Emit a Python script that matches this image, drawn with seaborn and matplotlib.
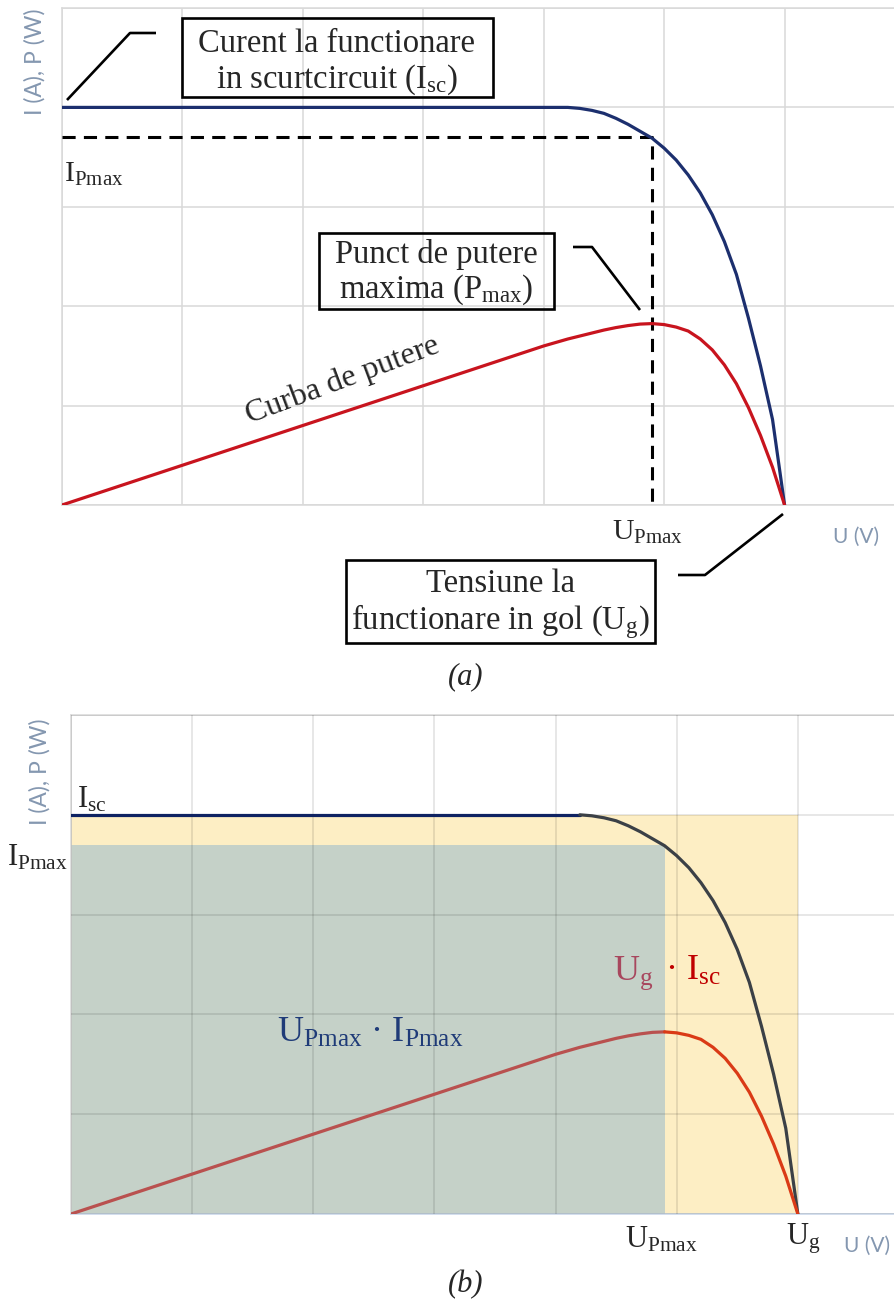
import matplotlib
matplotlib.use("Agg")
import matplotlib.pyplot as plt
from matplotlib.lines import Line2D
from matplotlib.patches import Rectangle
import pandas as pd
import seaborn as sns

# ---- I-U and P-U characteristic of a PV cell (read in grid units) ----
voltage = [0, 1, 2, 3, 3.5, 4.0, 4.1, 4.2, 4.3, 4.4, 4.5, 4.6, 4.7, 4.8,
           4.9, 5.0, 5.1, 5.2, 5.3, 5.4, 5.5, 5.6, 5.7, 5.8, 5.9, 6.0]
current = [4.0, 4.0, 4.0, 4.0, 4.0, 4.0, 4.0, 4.0, 3.99, 3.97, 3.94, 3.89,
           3.83, 3.76, 3.69, 3.59, 3.47, 3.32, 3.14, 2.92, 2.65, 2.32, 1.88,
           1.40, 0.86, 0.0]
power = [0.0, 0.40, 0.80, 1.20, 1.40, 1.60, 1.635, 1.67, 1.70, 1.73, 1.76,
         1.785, 1.805, 1.82, 1.825, 1.815, 1.79, 1.75, 1.67, 1.56, 1.41, 1.22,
         0.98, 0.70, 0.38, 0.0]

U_G = 6.0       # open-circuit voltage
I_SC = 4.0      # short-circuit current
U_PMAX = 4.9    # voltage at maximum power point
I_PMAX = 3.7    # current at maximum power point
KNEE_U = 4.2    # where the current starts to fall

x_ticks = [0, 1, 2, 3, 4, 5, 6, 7]
y_ticks = [0, 1, 2, 3, 4, 5]
y_label = "I (A), P (W)"
x_label = "U (V)"

df = pd.DataFrame({"U": voltage, "I": current, "P": power})

sns.set_theme(style="whitegrid")
plt.rcParams["font.family"] = ["Liberation Serif", "DejaVu Serif"]
plt.rcParams["mathtext.fontset"] = "custom"
plt.rcParams["mathtext.rm"] = "Liberation Serif"
plt.rcParams["mathtext.it"] = "Liberation Serif:italic"
plt.rcParams["mathtext.default"] = "rm"

W, H = 894, 1300
fig = plt.figure(figsize=(W / 100, H / 100), dpi=100)
fig.patch.set_facecolor("white")


def fx(px):
    return px / W


def fy(py):
    return 1 - py / H


def axes_px(left, top, right, bottom):
    return fig.add_axes([fx(left), fy(bottom), (right - left) / W, (bottom - top) / H])


GRID = "#D9D9D9"
AXIS_LABEL_COLOR = "#8497B0"
SANS = ["Lato", "DejaVu Sans"]
NAVY = "#1C2F6E"
RED = "#C8141E"


def style_axes(ax, grid_kw):
    ax.set_xlim(0, 7)
    ax.set_ylim(0, 5)
    ax.set_xticks(x_ticks)
    ax.set_yticks(y_ticks)
    ax.set_xticklabels([])
    ax.set_yticklabels([])
    ax.tick_params(length=0)
    ax.set_facecolor("white")
    ax.grid(True, **grid_kw)
    for side in ["left", "top", "bottom", "right"]:
        ax.spines[side].set_color(GRID)
        ax.spines[side].set_linewidth(1.1)


def text(px, py, s, size, **kw):
    kw.setdefault("ha", "left")
    kw.setdefault("va", "baseline")
    fig.text(fx(px), fy(py), s, fontsize=size, **kw)


def leader(points, lw=1.9):
    xs = [fx(p[0]) for p in points]
    ys = [fy(p[1]) for p in points]
    fig.add_artist(Line2D(xs, ys, transform=fig.transFigure, color="black",
                          lw=lw, solid_capstyle="butt"))


def frame(left, top, right, bottom, lw=1.9):
    fig.add_artist(Rectangle((fx(left), fy(bottom)), (right - left) / W,
                             (bottom - top) / H, transform=fig.transFigure,
                             fill=False, ec="black", lw=lw))


# ================= panel (a) =================
ax_a = axes_px(62, 8, 905, 505)
style_axes(ax_a, dict(color=GRID, linewidth=1.1))
ax_a.set_axisbelow(True)

sns.lineplot(data=df, x="U", y="I", ax=ax_a, color=NAVY, linewidth=2.3,
             sort=True, zorder=3)
sns.lineplot(data=df, x="U", y="P", ax=ax_a, color=RED, linewidth=2.3,
             sort=True, zorder=3)
ax_a.plot([0, U_PMAX, U_PMAX], [I_PMAX, I_PMAX, 0], color="black",
          linewidth=2.2, dashes=(4.3, 2.7), zorder=2.8)
ax_a.set_xlabel("")
ax_a.set_ylabel("")

fig.text(fx(35), fy(62), y_label, rotation=90, ha="center", va="center",
         fontsize=16.5, color=AXIS_LABEL_COLOR, family=SANS)
fig.text(fx(856), fy(537), x_label, ha="center", va="center",
         fontsize=15, color=AXIS_LABEL_COLOR, family=SANS)

# short-circuit current callout
frame(182, 18, 493, 97)
text(337, 52, "Curent la functionare", 23.5, ha="center")
text(337, 88, "in scurtcircuit ($I_{sc}$)", 23.5, ha="center")
leader([(67, 100), (130, 33), (156, 33)])

# maximum power point callout
frame(319, 233, 554, 309)
text(436, 263, "Punct de putere", 23.5, ha="center")
text(436, 298, "maxima ($P_{max}$)", 23.5, ha="center")
leader([(640, 310), (592, 247), (573, 247)])

# open-circuit voltage callout
frame(346, 560, 655, 643)
text(500, 592, "Tensiune la", 23.5, ha="center")
text(500, 629, "functionare in gol ($U_{g}$)", 23.5, ha="center")
leader([(783, 514), (705, 575), (678, 575)])

text(64, 182, "$I_{Pmax}$", 21.5)
text(612, 540, "$U_{Pmax}$", 21.5)
text(343, 380, "Curba de putere", 23, ha="center", va="center", rotation=20.5)

fig.text(fx(466), fy(677), "(a)", ha="center", va="center", fontsize=22,
         style="italic")

# ================= panel (b) =================
ax_b = axes_px(71, 715, 919, 1214)
style_axes(ax_b, dict(color="black", alpha=0.12, linewidth=1.1))
ax_b.set_axisbelow(False)
ax_b.spines["bottom"].set_color("#C6D4E8")

YELLOW = "#FDEEC4"
GREEN = "#C5D1C8"
ax_b.fill_between([0, U_G], 0, I_SC, color=YELLOW, linewidth=0, zorder=1)
ax_b.fill_between([0, U_PMAX], 0, I_PMAX, color=GREEN, linewidth=0, zorder=1.1)

flat = df[df["U"] <= KNEE_U]
falling = df[df["U"] >= KNEE_U]
rising = df[df["U"] <= U_PMAX]
dropping = df[df["U"] >= U_PMAX]

sns.lineplot(data=flat, x="U", y="I", ax=ax_b, color="#0E2262",
             linewidth=2.3, zorder=3)
sns.lineplot(data=falling, x="U", y="I", ax=ax_b, color="#3B4046",
             linewidth=2.3, zorder=3)
sns.lineplot(data=rising, x="U", y="P", ax=ax_b, color="#B9514F",
             linewidth=2.3, zorder=3)
sns.lineplot(data=dropping, x="U", y="P", ax=ax_b, color="#DA3A16",
             linewidth=2.3, zorder=3)
ax_b.set_xlabel("")
ax_b.set_ylabel("")

fig.text(fx(40), fy(772), y_label, rotation=90, ha="center", va="center",
         fontsize=16.5, color=AXIS_LABEL_COLOR, family=SANS)
fig.text(fx(867), fy(1246), x_label, ha="center", va="center",
         fontsize=15, color=AXIS_LABEL_COLOR, family=SANS)

text(77, 807, "$I_{sc}$", 22)
text(7, 866, "$I_{Pmax}$", 22)
text(277, 1042, "$U_{Pmax}$ · $I_{Pmax}$", 26, color="#1F3B78")
text(613, 980, "$U_{g}$", 26, color="#A8475E")
text(656, 980, " · $I_{sc}$", 26, color="#C00000")
text(625, 1248, "$U_{Pmax}$", 22)
text(786, 1245, "$U_{g}$", 22)

fig.text(fx(466), fy(1285), "(b)", ha="center", va="center", fontsize=22,
         style="italic")

fig.savefig("out.png", dpi=100, facecolor="white")
